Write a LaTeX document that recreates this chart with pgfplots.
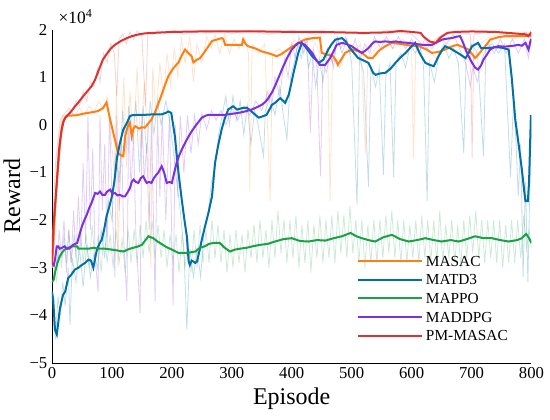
\documentclass[border=0pt]{standalone}
\usepackage{fontspec}
\setmainfont{Liberation Serif}
\usepackage{pgfplots}
\pgfplotsset{compat=1.18}
\definecolor{cMASAC}{RGB}{255,127,20}
\definecolor{cMATD3}{RGB}{0,112,165}
\definecolor{cMAPPO}{RGB}{26,160,72}
\definecolor{cMADDPG}{RGB}{126,47,224}
\definecolor{cPM}{RGB}{222,50,50}
\begin{document}
\begin{tikzpicture}[x=1pt,y=1pt]
\useasboundingbox (-39,-42) rectangle (373.5,272.25);
\begin{axis}[
  at={(0,0)}, anchor=south west,
  scale only axis, width=359.6pt, height=250.1pt,
  xmin=0, xmax=800, ymin=-5, ymax=2,
  axis x line*=bottom, axis y line*=left,
  axis line style={line width=0.7pt},
  xtick={0,100,200,300,400,500,600,700,800},
  xticklabels={0,100,200,300,400,500,600,700,800},
  ytick={-5,-4,-3,-2,-1,0,1,2},
  yticklabels={−5,−4,−3,−2,−1,0,1,2},
  tick style={draw=none},
  ticklabel style={font=\rmfamily\fontsize{12.5}{12.5}\selectfont},
  xlabel={Episode}, ylabel={Reward},
  label style={font=\rmfamily\fontsize{18}{18}\selectfont},
  clip=true,
  legend cell align=left,
  legend image code/.code={\draw[#1] (0pt,0pt) -- (48pt,0pt);},
  legend style={draw=none, fill=none, inner sep=0pt, row sep=4pt,
    font=\rmfamily\fontsize{11.5}{11.5}\selectfont,
    nodes={inner ysep=1pt, text height=8pt, text depth=0pt},
    at={(axis cs:509,-2.71)}, anchor=north west},
]
\addlegendimage{cMASAC, line width=1.5pt}
\addlegendimage{cMATD3, line width=1.5pt}
\addlegendimage{cMAPPO, line width=1.5pt}
\addlegendimage{cMADDPG, line width=1.5pt}
\addlegendimage{cPM, line width=1.5pt}
% ---------- raw (faint) traces ----------
\addplot[cMAPPO, opacity=0.22, line width=0.6pt, forget plot] coordinates {
(0,-3.4)(4,-3.0)(8,-3.3)(12,-2.5)(16,-3.0)(20,-2.3)(24,-2.9)(28,-2.2)(32,-2.9)(37,-2.3)(42,-3.0)(47,-2.2)(52,-2.9)(57,-2.3)(62,-3.0)(67,-2.1)(72,-2.9)(77,-2.3)(82,-3.1)(87,-2.2)(92,-2.9)(97,-2.3)(102,-3.0)(107,-2.2)(112,-2.9)(117,-2.4)(122,-3.1)(127,-2.2)(132,-2.9)(137,-2.2)(142,-2.9)(147,-2.1)(152,-2.8)(157,-2.0)(162,-2.7)(167,-2.0)(172,-2.8)(177,-2.1)(182,-2.8)(187,-2.2)(192,-3.0)(197,-2.3)(202,-2.9)(207,-2.3)(212,-3.1)(217,-2.3)(222,-3.0)(227,-2.4)(232,-3.1)(237,-2.2)(242,-3.0)(247,-2.1)(252,-2.9)(257,-2.2)(262,-2.9)(267,-2.0)(272,-2.8)(277,-2.1)(282,-2.9)(287,-2.2)(292,-3.1)(297,-2.3)(302,-3.0)(307,-2.2)(312,-2.9)(317,-2.3)(322,-3.1)(327,-2.2)(332,-2.8)(337,-2.1)(342,-2.9)(347,-2.0)(352,-2.8)(357,-2.2)(362,-3.0)(367,-2.0)(372,-2.8)(377,-1.8)(382,-2.7)(387,-2.0)(392,-2.9)(397,-2.0)(402,-2.8)(407,-1.9)(412,-3.0)(417,-2.1)(422,-2.9)(427,-2.0)(432,-3.1)(437,-2.1)(442,-2.8)(447,-1.9)(452,-2.9)(457,-2.0)(462,-2.8)(467,-1.9)(472,-2.9)(477,-1.8)(482,-2.7)(487,-1.9)(492,-2.8)(497,-1.7)(502,-2.7)(507,-2.0)(512,-2.9)(517,-2.0)(522,-3.0)(527,-2.1)(532,-2.9)(537,-2.0)(542,-2.9)(547,-2.0)(552,-2.8)(557,-1.9)(562,-2.7)(567,-1.8)(572,-2.8)(577,-2.0)(582,-2.9)(587,-2.0)(592,-2.9)(597,-2.1)(602,-2.8)(607,-2.0)(612,-2.9)(617,-1.9)(622,-2.8)(627,-2.0)(632,-2.9)(637,-2.0)(642,-2.9)(647,-1.8)(652,-2.9)(657,-2.1)(662,-2.8)(667,-2.0)(672,-2.9)(677,-2.1)(682,-3.0)(687,-2.0)(692,-2.8)(697,-1.9)(702,-2.7)(707,-1.8)(712,-2.8)(717,-2.0)(722,-2.9)(727,-2.0)(732,-2.8)(737,-2.0)(742,-2.9)(747,-2.0)(752,-3.0)(757,-2.1)(762,-2.9)(767,-2.0)(772,-2.9)(777,-2.0)(782,-2.8)(787,-1.9)(792,-2.6)(796,-2.2)(800,-2.6)};
\addplot[cMADDPG, opacity=0.24, line width=0.6pt, forget plot] coordinates {
(0,-2.8)(4,-2.4)(8,-3.0)(12,-2.2)(16,-2.8)(20,-2.0)(24,-3.1)(28,-2.2)(32,-2.9)(36,-1.8)(40,-2.8)(44,-1.5)(48,-2.6)(52,-0.8)(56,-2.5)(60,0.2)(64,-2.2)(68,-0.5)(72,-2.8)(77,-3.5)(80,0.2)(84,-1.8)(88,-0.4)(92,-2.6)(96,0.2)(100,-1.5)(105,-3.2)(108,0.2)(112,-1.8)(116,-0.3)(120,-2.5)(125,-3.7)(128,0.2)(132,-1.4)(136,-0.2)(140,-2.3)(147,-3.95)(150,0.2)(154,-1.2)(158,-0.4)(162,-2.2)(166,0.1)(172,-3.7)(176,0.2)(180,-1.5)(184,0.2)(190,-2.0)(196,0.2)(202,-3.8)(206,0.0)(210,-1.5)(214,0.2)(220,-1.0)(226,0.2)(232,-0.6)(238,0.2)(244,-0.4)(250,0.25)(258,-0.1)(266,0.3)(274,0.1)(282,0.3)(290,0.0)(300,0.35)(310,0.1)(320,0.4)(330,0.2)(340,0.5)(350,0.3)(360,0.7)(366,0.3)(372,1.0)(380,0.6)(388,1.4)(394,1.0)(400,1.7)(406,1.4)(412,1.85)(420,1.5)(426,1.8)(431,-0.17)(436,1.6)(442,1.2)(448,-1.08)(452,1.3)(458,1.1)(464,1.5)(470,1.2)(476,1.85)(482,1.6)(490,1.85)(498,1.5)(506,1.8)(514,1.4)(522,1.7)(530,1.5)(538,1.85)(548,1.6)(558,1.85)(568,1.6)(578,1.85)(590,1.6)(600,1.8)(612,1.5)(622,1.8)(634,1.6)(646,1.85)(658,1.7)(670,1.9)(680,1.6)(690,1.3)(698,0.81)(702,1.2)(710,0.9)(718,1.4)(728,1.7)(738,1.5)(748,1.8)(758,1.5)(768,1.8)(778,1.5)(788,1.8)(795,1.4)(800,1.8)};
\addplot[cMATD3, opacity=0.24, line width=0.6pt, forget plot] coordinates {
(0,-3.6)(3,-4.2)(6,-4.5)(10,-3.6)(14,-4.0)(18,-3.3)(22,-3.8)(27,-3.0)(30,-4.2)(34,-2.8)(40,-3.3)(46,-2.6)(52,-3.4)(58,-2.5)(64,-3.2)(70,-2.7)(76,-3.0)(82,-2.2)(88,-2.8)(94,-1.6)(100,-2.0)(106,-0.6)(112,-1.2)(118,0.3)(124,-0.5)(128,0.4)(134,-0.3)(140,0.5)(146,-1.0)(152,0.4)(158,-0.6)(164,0.5)(170,-0.2)(176,0.5)(182,0.0)(190,0.5)(196,0.1)(202,-0.5)(208,-1.2)(214,-1.8)(220,-2.6)(225,-4.3)(230,-2.6)(236,-3.2)(242,-2.6)(248,-3.2)(254,-2.2)(260,-1.9)(266,-1.2)(272,-0.9)(278,-0.2)(284,0.2)(290,0.6)(296,0.0)(302,0.6)(308,0.1)(314,0.5)(320,-0.2)(326,0.4)(332,-0.4)(338,0.3)(344,0.0)(353,-0.66)(356,0.3)(364,0.6)(372,0.2)(380,0.8)(386,0.2)(392,-0.3)(398,1.0)(404,1.3)(410,1.7)(416,1.4)(422,1.8)(428,1.2)(434,1.5)(440,0.8)(446,1.4)(452,0.9)(460,1.6)(468,1.3)(476,1.8)(484,1.5)(492,1.8)(500,1.3)(509,-1.68)(513,1.4)(520,1.1)(528,-1.3)(532,1.2)(540,0.8)(546,1.2)(553,-1.05)(557,1.0)(564,1.3)(570,-1.1)(574,1.3)(582,1.5)(590,1.2)(598,1.7)(606,1.5)(614,1.7)(620,1.2)(626,-1.6)(630,1.3)(638,0.9)(646,1.5)(654,1.7)(662,1.4)(670,1.6)(678,1.3)(687,-0.6)(691,1.4)(700,1.7)(710,1.5)(720,-0.66)(724,1.6)(735,1.7)(745,1.5)(755,1.7)(765,-1.1)(770,0.5)(774,-0.3)(778,-1.5)(782,-0.4)(786,-3.2)(790,-1.2)(794,-3.3)(797,-1.5)(800,0.2)};
\addplot[cMASAC, opacity=0.22, line width=0.6pt, forget plot] coordinates {
(0,-3.0)(4,-1.8)(8,-0.9)(12,-0.2)(18,0.2)(24,0.15)(30,0.3)(38,0.2)(46,0.35)(54,0.2)(62,0.4)(70,0.25)(78,0.5)(86,0.3)(92,0.6)(98,-0.2)(104,-1.0)(108,0.8)(110,-3.0)(114,-0.8)(120,1.0)(124,-0.9)(130,0.7)(136,-0.4)(142,1.2)(148,-0.5)(154,0.9)(160,-0.3)(165,-3.0)(168,1.2)(174,0.2)(180,1.3)(186,0.6)(192,1.5)(198,0.8)(204,1.6)(210,1.0)(216,1.8)(222,1.3)(230,1.85)(236,0.9)(242,1.7)(250,1.3)(258,1.85)(266,1.6)(272,1.9)(280,1.5)(288,1.9)(296,1.5)(304,1.8)(312,1.6)(320,1.85)(328,1.5)(330,-1.4)(334,1.7)(345,1.5)(355,1.7)(364,-1.6)(368,1.5)(380,1.6)(392,1.4)(404,1.8)(416,1.6)(428,1.85)(440,1.7)(450,1.4)(460,1.6)(464,-1.6)(468,1.4)(480,1.2)(492,1.6)(505,1.5)(515,1.7)(523,-0.6)(527,1.4)(540,1.6)(555,1.8)(570,1.6)(585,1.8)(600,1.6)(603,-0.7)(607,1.6)(620,1.7)(640,1.4)(660,1.7)(680,1.5)(700,1.3)(715,1.7)(730,1.85)(750,1.9)(770,1.8)(790,1.95)(800,1.85)};
\addplot[cPM, opacity=0.22, line width=0.6pt, forget plot] coordinates {
(0,-2.9)(3,-1.5)(6,-0.8)(10,-0.3)(14,0.1)(18,0.2)(22,0.25)(28,0.35)(34,0.3)(40,0.5)(46,0.4)(52,0.7)(58,0.5)(64,0.9)(70,0.8)(76,1.2)(80,0.9)(86,1.5)(92,1.3)(98,1.7)(104,1.5)(108,0.6)(112,1.8)(118,1.9)(124,1.7)(130,1.95)(136,1.8)(142,1.97)(150,1.85)(156,0.4)(160,1.95)(168,1.9)(176,1.98)(190,1.92)(205,1.98)(220,1.9)(240,1.98)(260,1.93)(280,1.98)(300,1.92)(330,1.98)(360,1.9)(400,1.98)(440,1.9)(480,1.97)(520,1.9)(560,1.98)(600,1.9)(625,1.6)(640,1.8)(660,1.95)(698,1.9)(701,-0.7)(704,1.9)(740,1.97)(770,1.85)(790,1.95)(800,1.8)};
% ---------- smoothed curves ----------
\addplot[cMASAC, line width=1.5pt, forget plot] coordinates {
(0,-3.0)(3,-2.3)(6,-1.6)(10,-0.9)(14,-0.3)(18,0.05)(22,0.15)(26,0.19)(40,0.2)(55,0.24)(70,0.27)(77,0.29)(85,0.35)(91,0.47)(97,0.11)(101,-0.1)(105,-0.31)(110,-0.59)(115,-0.64)(119,-0.66)(122,-0.24)(126,-0.05)(130,0.04)(133,-0.24)(136,-0.08)(139,-0.03)(145,-0.08)(150,-0.05)(155,-0.06)(160,0.02)(166,0.11)(173,0.3)(180,0.53)(187,0.78)(194,1.02)(202,1.18)(211,1.31)(217,1.47)(222,1.58)(228,1.5)(233,1.44)(236,1.31)(241,1.36)(247,1.4)(254,1.52)(261,1.65)(267,1.76)(275,1.79)(283,1.82)(286,1.8)(289,1.68)(300,1.68)(310,1.68)(317,1.68)(319,1.79)(323,1.7)(327,1.65)(340,1.6)(350,1.54)(362,1.5)(375,1.44)(382,1.48)(389,1.54)(398,1.62)(406,1.68)(414,1.74)(422,1.79)(435,1.82)(447,1.83)(450,1.51)(460,1.47)(469,1.44)(474,1.35)(477,1.26)(483,1.38)(489,1.51)(500,1.58)(510,1.55)(517,1.51)(528,1.40)(535,1.4)(545,1.55)(556,1.65)(567,1.72)(580,1.7)(590,1.68)(600,1.66)(612,1.65)(625,1.58)(634,1.51)(645,1.53)(656,1.58)(666,1.64)(676,1.68)(686,1.63)(695,1.58)(700,1.5)(706,1.40)(713,1.5)(720,1.61)(726,1.7)(731,1.79)(745,1.84)(756,1.86)(775,1.86)(790,1.86)(798,1.9)(800,1.85)};
\addplot[cMATD3, line width=1.5pt, forget plot] coordinates {
(0,-3.5)(2,-3.67)(5,-4.3)(8,-4.4)(10,-4.2)(13,-3.88)(16,-3.7)(18.5,-3.57)(22,-3.5)(27,-3.22)(32,-3.15)(38,-3.04)(44,-3.0)(50,-2.94)(55,-2.9)(61,-2.83)(65,-2.85)(69,-3.0)(72,-2.8)(75,-2.62)(79,-2.5)(83,-2.41)(87,-2.2)(91,-1.92)(96,-1.7)(100,-1.5)(104,-1.2)(108,-0.73)(113,-0.4)(119,-0.1)(125,0.04)(130,0.18)(133,0.2)(145,0.21)(155,0.21)(170,0.22)(183,0.22)(190,0.25)(194,0.28)(199,0.25)(205,-0.24)(211,-1.0)(216.5,-1.57)(221,-2.0)(225,-2.34)(228,-2.87)(230,-2.94)(233,-2.85)(236,-2.87)(239,-2.9)(242,-2.87)(246,-2.65)(250,-2.41)(255,-2.15)(261,-1.85)(267,-1.5)(272,-0.8)(277,-0.45)(283,-0.1)(288,0.12)(294,0.32)(302,0.39)(309,0.32)(317,0.35)(325,0.36)(333,0.28)(340,0.2)(345,0.15)(352,0.18)(358,0.21)(362,0.3)(367,0.42)(372,0.46)(381,0.56)(389,0.46)(395,0.63)(399,0.85)(403,1.09)(407,1.3)(411,1.51)(417,1.72)(422,1.65)(428,1.55)(434,1.44)(440,1.37)(445,1.3)(453,1.37)(461,1.58)(467,1.7)(473,1.79)(484,1.82)(490,1.75)(495,1.65)(503,1.52)(511,1.40)(520,1.35)(528,1.30)(536,1.09)(540,1.05)(548,1.08)(556,1.09)(565,1.18)(573,1.30)(582,1.42)(590,1.51)(598,1.62)(606,1.72)(610,1.6)(615,1.47)(623,1.30)(630,1.26)(637,1.23)(645,1.44)(650,1.55)(656,1.65)(665,1.6)(673,1.54)(682,1.47)(690,1.40)(695,1.5)(701,1.65)(711,1.72)(716,1.61)(728,1.61)(740,1.63)(750,1.62)(762,1.58)(767,1.0)(773,0.11)(779,-0.45)(784,-0.94)(788,-1.4)(790,-1.6)(794,-1.6)(796,-1.2)(799,0.18)(800,0.18)};
\addplot[cMAPPO, line width=1.5pt, forget plot] coordinates {
(0,-3.3)(3,-3.25)(5,-3.1)(9,-2.9)(13,-2.76)(17,-2.68)(21,-2.62)(27,-2.58)(33,-2.55)(42,-2.55)(44,-2.6)(52,-2.6)(61,-2.6)(70,-2.58)(77,-2.6)(88,-2.6)(100,-2.62)(110,-2.64)(119,-2.66)(126,-2.62)(133,-2.59)(142,-2.56)(150,-2.52)(156,-2.42)(161,-2.34)(165,-2.36)(169,-2.38)(175,-2.44)(180,-2.48)(190,-2.56)(200,-2.62)(211,-2.69)(222,-2.69)(230,-2.68)(239,-2.66)(247,-2.58)(255,-2.55)(262,-2.5)(269,-2.48)(280,-2.48)(288,-2.58)(297,-2.66)(305,-2.62)(314,-2.6)(325,-2.58)(335,-2.55)(347,-2.52)(360,-2.5)(372,-2.45)(386,-2.4)(400,-2.38)(414,-2.44)(428,-2.45)(442,-2.42)(456,-2.43)(470,-2.38)(484,-2.34)(498,-2.27)(508,-2.34)(517,-2.38)(528,-2.42)(539,-2.45)(553,-2.36)(567,-2.31)(581,-2.4)(595,-2.45)(609,-2.42)(623,-2.38)(637,-2.42)(650,-2.45)(665,-2.42)(679,-2.45)(692,-2.4)(706,-2.34)(720,-2.38)(734,-2.38)(748,-2.42)(762,-2.45)(776,-2.42)(784,-2.38)(791,-2.29)(795,-2.36)(800,-2.48)};
\addplot[cMADDPG, line width=1.5pt, forget plot] coordinates {
(0,-2.9)(3,-2.95)(5,-2.83)(8,-2.55)(10,-2.55)(13,-2.6)(17,-2.58)(21,-2.55)(25,-2.6)(29,-2.6)(32,-2.56)(35,-2.52)(42,-2.48)(46,-2.3)(50,-2.13)(54,-2.0)(58,-1.89)(62,-1.75)(66,-1.64)(72,-1.43)(76,-1.45)(80,-1.4)(84,-1.47)(88.5,-1.47)(92,-1.4)(97,-1.36)(101,-1.45)(105,-1.43)(109,-1.48)(113,-1.47)(118,-1.5)(122,-1.5)(126,-1.42)(130,-1.33)(133,-1.2)(136,-1.15)(140,-1.2)(144,-1.22)(148,-1.12)(152,-1.08)(155,-1.15)(158,-1.22)(162,-1.2)(166,-1.22)(170,-1.12)(174,-1.05)(177,-1.01)(183,-0.87)(187,-1.0)(191.5,-1.22)(196,-1.2)(200,-1.22)(204,-1.0)(208,-0.8)(212,-0.65)(216.5,-0.52)(222,-0.38)(228,-0.24)(234,-0.12)(239,-0.03)(245,0.07)(250,0.15)(256,0.19)(261,0.21)(272,0.21)(289,0.21)(300,0.23)(311,0.25)(322,0.28)(333,0.32)(342,0.37)(350,0.42)(356,0.48)(361,0.56)(367,0.68)(372,0.81)(379,1.02)(386,1.23)(393,1.42)(400,1.58)(406,1.66)(411,1.72)(416,1.71)(422,1.68)(428,1.6)(434,1.51)(440,1.38)(447,1.26)(456,1.26)(464,1.40)(470,1.55)(475,1.68)(484,1.72)(490,1.7)(500,1.65)(508,1.58)(517,1.51)(522,1.55)(528,1.61)(534,1.7)(539,1.75)(547,1.74)(556,1.75)(565,1.74)(573,1.75)(584,1.73)(595,1.72)(606,1.7)(617,1.68)(626,1.68)(634,1.68)(642,1.73)(651,1.79)(660,1.81)(667,1.82)(675,1.85)(681,1.86)(686,1.72)(690,1.58)(696,1.42)(701,1.30)(706,1.2)(711,1.16)(716,1.25)(720,1.37)(726,1.48)(731,1.58)(738,1.63)(745,1.65)(755,1.64)(762,1.65)(770,1.66)(778,1.68)(784,1.66)(790,1.72)(795,1.58)(799,1.79)(800,1.79)};
\addplot[cPM, line width=1.5pt, forget plot] coordinates {
(0,-2.9)(2,-2.2)(5,-1.7)(8,-1.2)(12,-0.5)(16,-0.1)(20,0.1)(24,0.18)(30,0.25)(38,0.38)(44,0.47)(52,0.6)(60,0.72)(66,0.81)(72,0.95)(78,1.15)(85,1.37)(92,1.5)(98,1.6)(105,1.68)(115,1.76)(125,1.82)(133,1.86)(145,1.9)(155,1.92)(170,1.93)(185,1.94)(200,1.95)(250,1.96)(300,1.96)(350,1.96)(400,1.95)(450,1.95)(480,1.94)(520,1.93)(560,1.94)(581,1.97)(600,1.95)(615,1.93)(620,1.85)(630,1.75)(640,1.72)(650,1.85)(660,1.93)(673,1.95)(700,1.96)(740,1.95)(770,1.92)(790,1.9)(795,1.86)(800,1.95)};
\legend{MASAC,MATD3,MAPPO,MADDPG,PM-MASAC}
\end{axis}
\node[anchor=base west, font=\rmfamily\fontsize{13}{13}\selectfont] at (1.5pt,254.5pt) {×10\textsuperscript{4}};
\end{tikzpicture}
\end{document}
